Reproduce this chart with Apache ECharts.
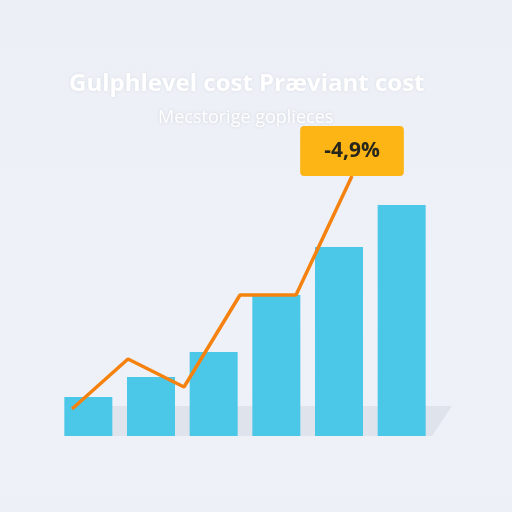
<!DOCTYPE html>
<html>
<head>
<meta charset="utf-8">
<script src="https://cdn.jsdelivr.net/npm/echarts@6/dist/echarts.min.js"></script>
<style>
  html, body { margin: 0; padding: 0; }
  #chart { width: 512px; height: 512px; background: linear-gradient(180deg, #eceff5 0%, #eef2f8 60%, #edf1f7 100%); }
</style>
</head>
<body>
<div id="chart"></div>
<script>
// data
const categories = ['1', '2', '3', '4', '5', '6'];
const barValues = [39, 59, 84, 141, 189, 231];
const lineValues = [27, 77, 49, 141, 141, 260];
const changeLabel = '-4,9%';
const titleText = 'Gulphlevel cost Præviant cost';
const subtitleText = 'Mecstorige goplieces';

const chart = echarts.init(document.getElementById('chart'));

// label only on last point of the line
const lineData = lineValues.map((v, i) => {
    if (i !== lineValues.length - 1) return v;
    return {
        value: v,
        label: {
            show: true,
            position: 'top',
            distance: 0,
            formatter: changeLabel,
            backgroundColor: '#fdb515',
            borderRadius: 4,
            padding: [12, 24],
            fontFamily: 'Open Sans',
            fontSize: 21,
            fontWeight: 'bold',
            lineHeight: 26,
            color: '#27261c'
        }
    };
});

chart.setOption({
    backgroundColor: 'transparent',
    animation: false,
    title: [
        {
            text: titleText,
            left: 64,
            top: 67,
            textStyle: {
                color: '#ffffff',
                fontFamily: 'Open Sans',
                fontSize: 24,
                fontWeight: 'bold',
                textShadowColor: 'rgba(120,130,150,0.18)',
                textShadowBlur: 3
            }
        },
        {
            text: subtitleText,
            left: 153,
            top: 104,
            textStyle: {
                color: '#ffffff',
                fontFamily: 'Open Sans',
                fontSize: 18,
                fontWeight: 'normal',
                textShadowColor: 'rgba(110,120,140,0.25)',
                textShadowBlur: 3
            }
        }
    ],
    // floor shadow behind the bars
    graphic: [{
        type: 'polygon',
        z: -1,
        shape: { points: [[100, 436], [432, 436], [452, 406], [110, 406], [85, 422]] },
        style: { fill: '#dfe4ec' }
    }],
    grid: [
        { left: 57, right: 79, top: 136, bottom: 76 },
        { left: 72, right: 160, top: 136, bottom: 76 }
    ],
    xAxis: [
        { type: 'category', data: categories, gridIndex: 0, show: false },
        { type: 'category', data: categories, gridIndex: 1, show: false, boundaryGap: false }
    ],
    yAxis: [
        { type: 'value', min: 0, max: 300, gridIndex: 0, show: false },
        { type: 'value', min: 0, max: 300, gridIndex: 1, show: false }
    ],
    series: [
        {
            type: 'bar',
            data: barValues,
            xAxisIndex: 0,
            yAxisIndex: 0,
            barWidth: 48,
            itemStyle: { color: '#4bc7e7' },
            z: 2
        },
        {
            type: 'line',
            data: lineData,
            xAxisIndex: 1,
            yAxisIndex: 1,
            symbol: 'circle',
            symbolSize: 0,
            lineStyle: { color: '#f5820f', width: 3.5 },
            itemStyle: { color: '#f5820f' },
            z: 3
        }
    ]
});
</script>
</body>
</html>
